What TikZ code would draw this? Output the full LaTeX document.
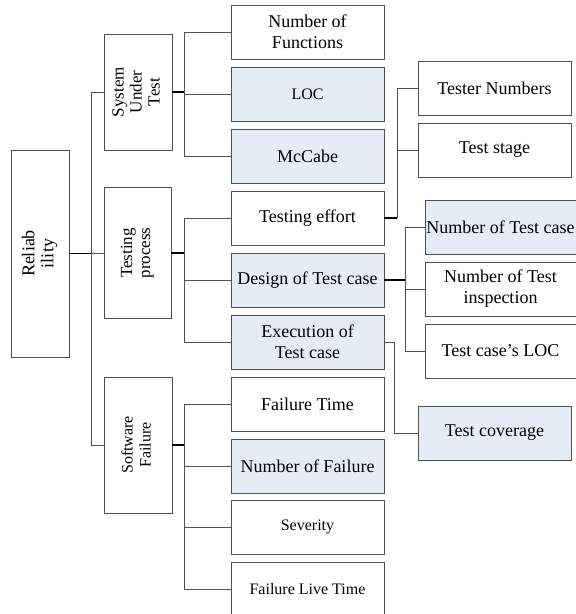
\documentclass[tikz,border=0pt]{standalone}
\usepackage{fontspec}
\setmainfont{Liberation Serif}
\usepackage{tikz}
\usetikzlibrary{positioning}

\definecolor{boxfill}{HTML}{E6ECF6}
\definecolor{boxline}{HTML}{505050}
\newcommand{\vlabel}[1]{\rotatebox{90}{\begin{tabular}{@{}c@{}}#1\end{tabular}}}

\begin{document}
\begin{tikzpicture}[x=1pt, y=-1pt,
		box/.style={draw=boxline, line width=0.9pt, fill=white, align=center, inner sep=0pt,
			minimum width=153, minimum height=54, font=\fontsize{18}{21}\selectfont},
		hot/.style={box, fill=boxfill},
		small/.style={font=\fontsize{16}{19}\selectfont},
		vbox/.style={draw=boxline, line width=0.9pt, inner sep=0pt},
		stem/.style={line width=1.2pt, black},
		branch/.style={line width=0.9pt, boxline}]
				\useasboundingbox (0, 0) rectangle (576, 614);

				% first two levels
				\node[vbox, minimum width=58, minimum height=207, font=\fontsize{18}{19}\selectfont] (rel) at (40, 253.5) {\vlabel{Reliab\\ility}};
				\node[vbox, minimum width=68, minimum height=116, font=\fontsize{17}{18}\selectfont] (sut) at (138, 92) {\vlabel{System\\Under\\Test}};
				\node[vbox, minimum width=67, minimum height=131, font=\fontsize{17}{18}\selectfont] (tp) at (137.5, 253) {\vlabel{Testing\\process}};
				\node[vbox, minimum width=68, minimum height=136, font=\fontsize{16}{18}\selectfont] (sf) at (138, 445) {\vlabel{Software\\Failure}};

				% third level
				\node[box] (nf) at (307.5, 32) {Number of\\Functions};
				\node[hot, small] (loc) at (307.5, 94) {LOC};
				\node[hot] (mcc) at (307.5, 156) {McCabe};
				\node[box] (te) at (307.5, 218) {Testing effort};
				\node[hot] (dtc) at (307.5, 280) {Design of Test case};
				\node[hot] (etc) at (307.5, 342) {Execution of\\Test case};
				\node[box] (ft) at (307.5, 404) {Failure Time};
				\node[hot] (nof) at (307.5, 466) {Number of Failure};
				\node[box, small] (sev) at (307.5, 527) {Severity};
				\node[box, small] (flt) at (307.5, 589) {Failure Live Time};

				% fourth level
				\node[box] (tn) at (494.5, 88) {Tester Numbers};
				\node[box] (ts) at (494.5, 150) {Test stage};
				\node[hot, minimum width=151] (ntc) at (500.5, 227) {Number of Test case};
				\node[box, minimum width=151] (nti) at (500.5, 289) {Number of Test\\inspection};
				\node[box, minimum width=151] (tcl) at (500.5, 351) {Test case's LOC};
				\node[hot] (tcov) at (494.5, 433) {Test coverage};

				% bus points
				\coordinate (j0) at (91, 253.5);
				\coordinate (j1) at (184, 92);
				\coordinate (j2) at (184, 253);
				\coordinate (j3) at (184, 445);
				\coordinate (j4) at (397, 218);
				\coordinate (j5) at (405, 280);
				\coordinate (j6) at (394, 342);

				\draw [stem] (rel.east) to (j0);
				\draw [branch] (j0) |- (sut.west);
				\draw [branch] (j0) |- (tp.west);
				\draw [branch] (j0) |- (sf.west);

				\draw [stem] (sut.east) to (j1);
				\draw [branch] (j1) |- (nf.west);
				\draw [branch] (j1) |- (loc.west);
				\draw [branch] (j1) |- (mcc.west);

				\draw [stem] (tp.east) to (j2);
				\draw [branch] (j2) |- (te.west);
				\draw [branch] (j2) |- (dtc.west);
				\draw [branch] (j2) |- (etc.west);

				\draw [stem] (sf.east) to (j3);
				\draw [branch] (j3) |- (ft.west);
				\draw [branch] (j3) |- (nof.west);
				\draw [branch] (j3) |- (sev.west);
				\draw [branch] (j3) |- (flt.west);

				\draw [stem] (te.east) to (j4);
				\draw [branch] (j4) |- (tn.west);
				\draw [branch] (j4) |- (ts.west);

				\draw [stem] (dtc.east) to (j5);
				\draw [branch] (j5) |- (ntc.west);
				\draw [branch] (j5) |- (nti.west);
				\draw [branch] (j5) |- (tcl.west);

				\draw [branch] (etc.east) to (j6);
				\draw [branch] (j6) |- (tcov.west);
		\end{tikzpicture}
\end{document}
